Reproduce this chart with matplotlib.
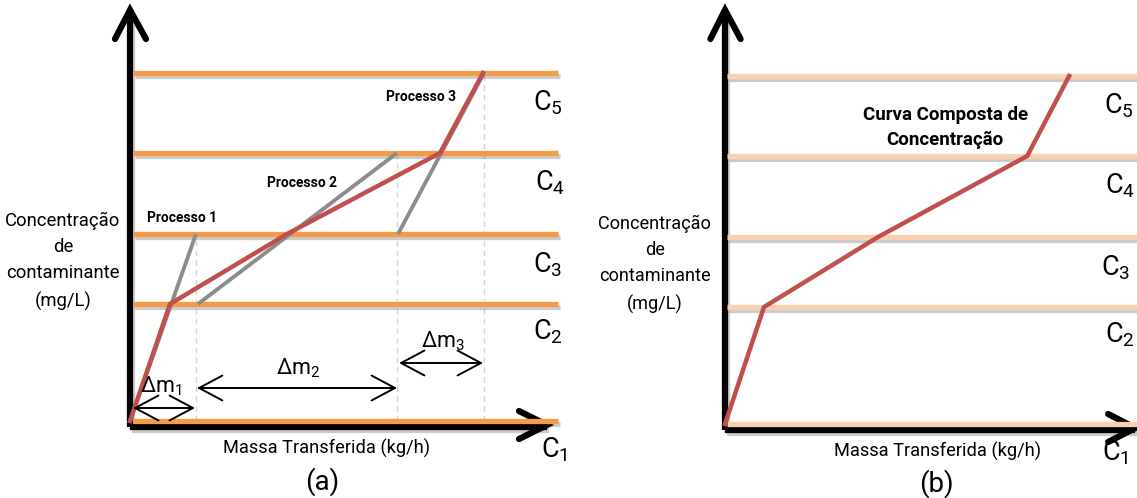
import matplotlib
matplotlib.use("Agg")
import matplotlib.pyplot as plt
import matplotlib.patheffects as pe

# concentration levels C1..C5 (mg/L) and mass scale (kg/h), arbitrary units
level_names = ["C1", "C2", "C3", "C4", "C5"]
levels = [0.0, 11.7, 18.7, 26.8, 34.8]

# individual processes: (mass start, mass end), (conc start, conc end)
proc_names = ["Processo 1", "Processo 2", "Processo 3"]
proc_mass = [(0.0, 6.6), (6.8, 26.7), (26.8, 35.4)]
proc_conc = [(0.0, 18.7), (11.7, 26.8), (18.7, 34.8)]

# limiting composite curve
comp_mass = [0.0, 4.0, 15.7, 31.0, 35.3]
comp_conc = [0.0, 11.7, 18.7, 26.8, 34.8]

# mass transfer intervals
dm_labels = [r"$\mathrm{\Delta m_1}$", r"$\mathrm{\Delta m_2}$", r"$\mathrm{\Delta m_3}$"]
dm_spans = [(0.3, 6.5), (6.7, 26.7), (26.9, 35.3)]

FONT = "Roboto"
plt.rcParams["font.family"] = [FONT, "DejaVu Sans"]
plt.rcParams["mathtext.fontset"] = "custom"
plt.rcParams["mathtext.rm"] = FONT
plt.rcParams["mathtext.it"] = FONT

ORANGE = "#F59A48"
PEACH = "#FAD0B0"
RED = "#C0504D"
GRAY = "#8C8C8C"

shadow = [pe.SimpleLineShadow(offset=(1.5, -2.5), shadow_color="k", alpha=0.2), pe.Normal()]

fig = plt.figure(figsize=(11.37, 4.98), dpi=100)
renderer = fig.canvas.get_renderer()


def fit(t, width_px):
    # scale the font so the text block is width_px wide
    w = t.get_window_extent(renderer).width
    t.set_fontsize(t.get_fontsize() * width_px / w)
    return t


def draw_axes(ax, tip_x, tip_y):
    ax.plot([0, 0], [-0.6, tip_y], color="k", lw=4.5, solid_capstyle="butt",
            path_effects=shadow, zorder=2)
    ax.plot([0, tip_x], [-0.6, -0.6], color="k", lw=4.5, solid_capstyle="butt",
            path_effects=shadow, zorder=2)
    ax.plot([-1.5, 0, 1.6], [tip_y - 2.9, tip_y, tip_y - 2.9], color="k", lw=4.5,
            solid_capstyle="round", solid_joinstyle="miter", zorder=2)
    ax.plot([tip_x - 2.8, tip_x, tip_x - 2.8], [1.0, -0.4, -1.8], color="k", lw=4.5,
            solid_capstyle="round", solid_joinstyle="miter", zorder=2)


def level_labels(ax, xs):
    for name, y, x in zip(level_names, [-2.9, 8.9, 15.6, 23.8, 31.8], xs):
        ax.text(x, y, r"$\mathrm{%s_%s}$" % (name[0], name[1]), fontsize=19.5,
                ha="left", va="center")


def ylabel(ax, x, w):
    t = ax.text(x, 16.0, "Concentração\nde\ncontaminante\n(mg/L)", fontsize=14,
                ha="center", va="center", linespacing=1.6)
    fit(t, w)


# ---- panel (a) ----
axa = fig.add_axes([0, 0, 570 / 1137, 1])
axa.set_xlim(-13.0, 44.0)
axa.set_ylim(-7.7, 42.1)
axa.axis("off")

for y in levels:
    axa.plot([0.3, 42.8], [y, y], color=ORANGE, lw=3.8, solid_capstyle="butt",
             path_effects=shadow, zorder=3)

for (m0, m1), (c0, c1) in zip(proc_mass, proc_conc):
    axa.plot([m1, m1], [0, c1], color="#D5D5D5", lw=1.0, ls=(0, (4, 3)), zorder=1)
for (m0, m1), (c0, c1) in zip(proc_mass, proc_conc):
    axa.plot([m0, m1], [c0, c1], color=GRAY, lw=2.8, solid_capstyle="butt", zorder=4)

axa.plot(comp_mass, comp_conc, color=RED, lw=3.2, solid_joinstyle="miter", zorder=5)
draw_axes(axa, 41.7, 41.1)

for name, (x, y) in zip(proc_names, [(5.2, 20.3), (17.2, 23.8), (29.1, 32.4)]):
    t = axa.text(x, y, name, fontsize=10.5, fontweight="bold", ha="center", va="center")
    fit(t, 70)

for lab, (x0, x1), ya, (tx, ty) in zip(dm_labels, dm_spans, [1.3, 3.3, 5.8],
                                        [(3.1, 3.5), (16.8, 5.3), (31.3, 8.0)]):
    axa.annotate("", xy=(x1, ya), xytext=(x0, ya),
                 arrowprops=dict(arrowstyle="<->,head_length=0.6,head_width=0.32",
                                 lw=1.4, color="k", mutation_scale=28,
                                 shrinkA=0, shrinkB=0), zorder=6)
    axa.text(tx, ty, lab, fontsize=15.5, ha="center", va="center", zorder=6)

level_labels(axa, [41.1, 40.3, 40.3, 40.5, 40.3])
ylabel(axa, -6.7, 116)
fit(axa.text(19.7, -2.7, "Massa Transferida (kg/h)", fontsize=14, ha="center",
             va="center"), 208)
axa.text(19.2, -6.1, "(a)", fontsize=20, ha="center", va="center")

# ---- panel (b) ----
axb = fig.add_axes([570 / 1137, 0, 567 / 1137, 1])
axb.set_xlim(-15.9, 42.26)
axb.set_ylim(-7.4, 42.4)
axb.axis("off")

for y in levels:
    axb.plot([0.2, 43.0], [y, y], color=PEACH, lw=3.8, solid_capstyle="butt",
             path_effects=shadow, zorder=3, clip_on=False)

axb.plot(comp_mass, comp_conc, color=RED, lw=3.2, solid_joinstyle="miter", zorder=5)
draw_axes(axb, 42.1, 41.4)

t = axb.text(22.6, 29.65, "Curva Composta de\nConcentração", fontsize=13.5,
             fontweight="bold", ha="center", va="center", linespacing=1.5)
fit(t, 165)

level_labels(axb, [38.7, 39.0, 38.6, 39.0, 38.9])
ylabel(axb, -7.2, 114)
fit(axb.text(21.8, -2.7, "Massa Transferida (kg/h)", fontsize=14, ha="center",
             va="center"), 208)
axb.text(21.7, -6.0, "(b)", fontsize=20, ha="center", va="center")

fig.savefig("out.png", dpi=100, facecolor="white")
